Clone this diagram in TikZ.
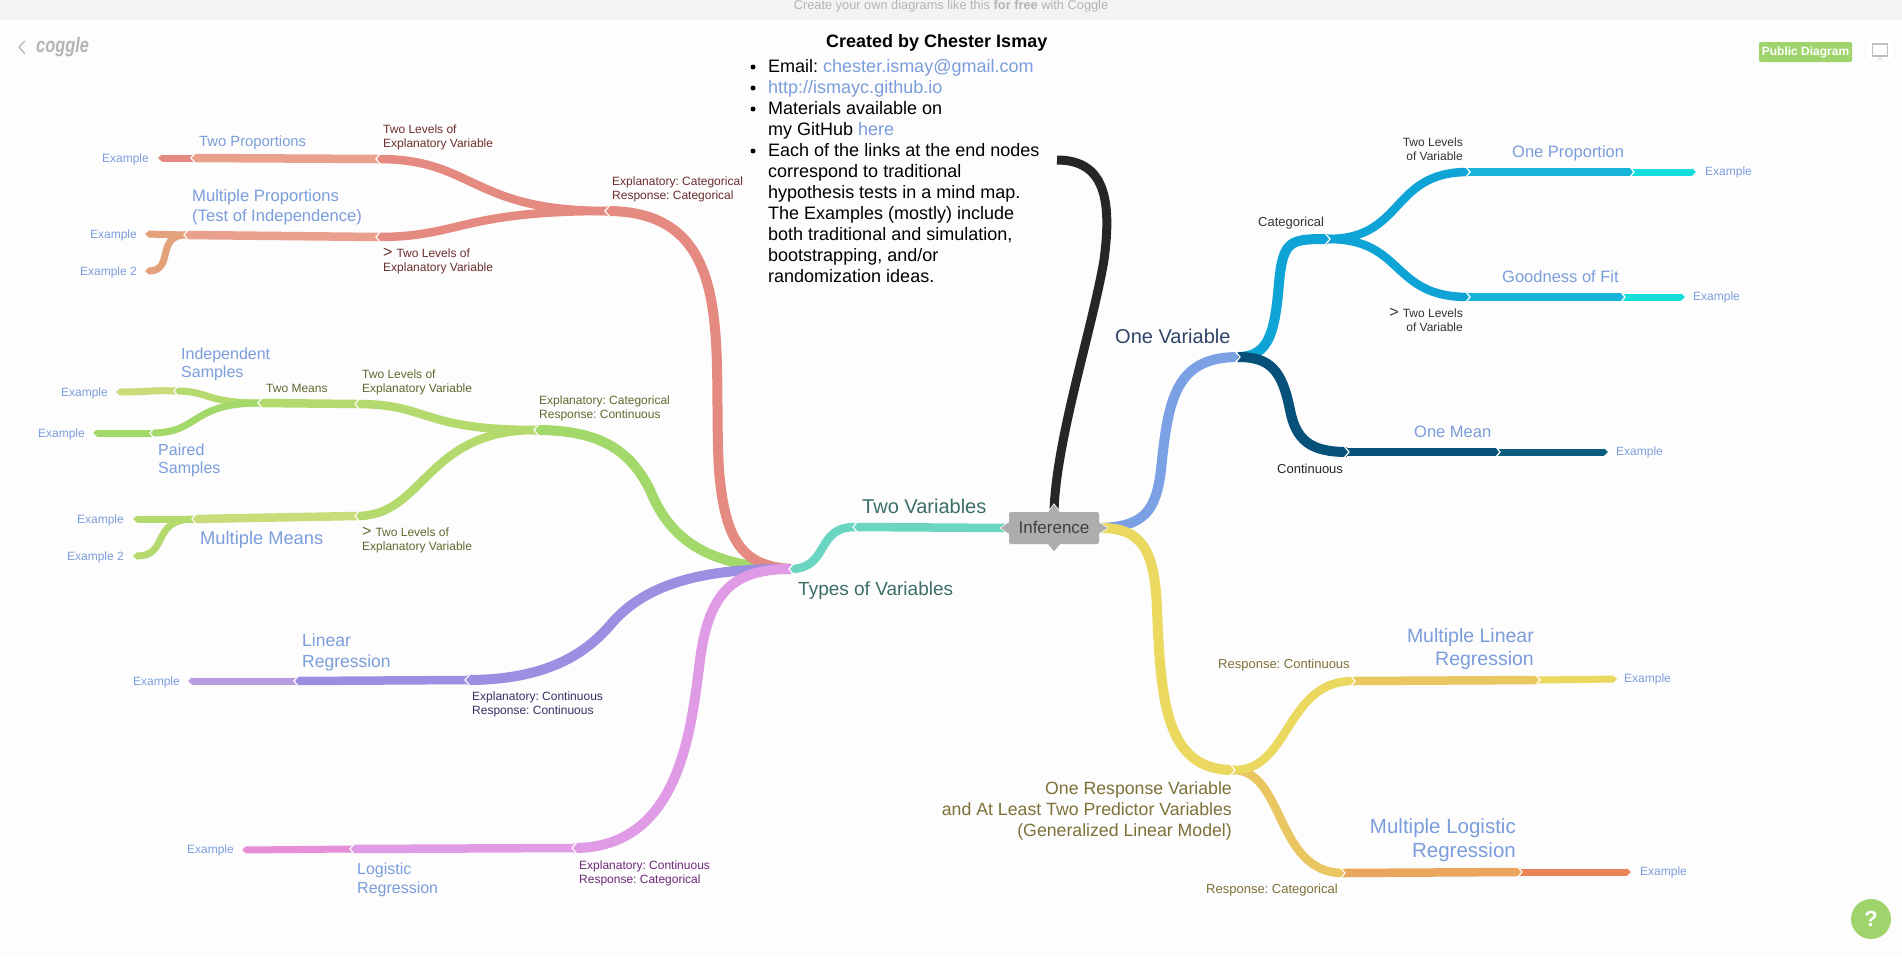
\documentclass[tikz,border=0pt]{standalone}
\usepackage{fontspec}
\setmainfont{Liberation Sans}
\frenchspacing
\usetikzlibrary{arrows.meta}
\definecolor{page_bg}{HTML}{FDFDFD}
\definecolor{bar_bg}{HTML}{F3F3F3}
\definecolor{bar_text}{HTML}{B4B4B4}
\definecolor{leaf_blue}{HTML}{7B9DDC}
\definecolor{btn_green}{HTML}{9FD46C}
\definecolor{c_red}{HTML}{E58A80}
\definecolor{c_salmon}{HTML}{E9A08C}
\definecolor{c_orange}{HTML}{E3A27C}
\definecolor{c_green}{HTML}{A3D86A}
\definecolor{c_lime}{HTML}{B4D96C}
\definecolor{c_pale}{HTML}{C9DC7A}
\definecolor{c_purple}{HTML}{9A8FE0}
\definecolor{c_violet}{HTML}{B89CE0}
\definecolor{c_pink}{HTML}{E09BE6}
\definecolor{c_rose}{HTML}{E68FD8}
\definecolor{c_teal}{HTML}{6AD6C2}
\definecolor{c_blue}{HTML}{7BA1E4}
\definecolor{c_sky}{HTML}{0EA5D6}
\definecolor{c_sky2}{HTML}{18B4DA}
\definecolor{c_aqua}{HTML}{14DEDC}
\definecolor{c_navy}{HTML}{06517A}
\definecolor{c_navy2}{HTML}{0C5D7E}
\definecolor{c_yellow}{HTML}{EBD85E}
\definecolor{c_gold}{HTML}{E9C660}
\definecolor{c_amber}{HTML}{E9A65C}
\definecolor{c_coral}{HTML}{E88458}
\definecolor{t_red}{HTML}{6B2E2E}
\definecolor{t_green}{HTML}{5C6B2E}
\definecolor{t_purple}{HTML}{3C2D66}
\definecolor{t_pink}{HTML}{6D2A78}
\definecolor{t_teal}{HTML}{3C6E68}
\definecolor{t_navy}{HTML}{2F4468}
\definecolor{t_olive}{HTML}{7D7138}
\tikzstyle{link_main} = [line width=10pt]
\tikzstyle{link_sub}  = [line width=8.5pt]
\tikzstyle{link_thin} = [line width=7pt]
\tikzstyle{link_end}  = [line width=7pt, -{Triangle[length=4pt,width=7pt]}]
\tikzstyle{joint}     = [draw=white, line width=1.2pt]
\tikzstyle{tip}       = [fill=black!32, draw=white, line width=0.6pt]
\tikzstyle{leaf}      = [inner sep=0pt, yshift=-1pt, text=leaf_blue, font=\fontsize{12}{14}\selectfont]
\tikzstyle{small}     = [inner sep=0pt, yshift=-1pt, align=left, font=\fontsize{12}{14}\selectfont]
\tikzstyle{small_b}   = [inner sep=0pt, yshift=-1pt, font=\fontsize{13}{14}\selectfont]
\tikzstyle{big}       = [inner sep=0pt, align=left, text=leaf_blue]
\newcommand{\gapl}[1]{\draw[joint] ([shift={(3,-6)}]#1) -- ([shift={(-2,0)}]#1) -- ([shift={(3,6)}]#1);}
\newcommand{\gapr}[1]{\draw[joint] ([shift={(-3,-6)}]#1) -- ([shift={(2,0)}]#1) -- ([shift={(-3,6)}]#1);}
\newcommand{\gtmark}{{\fontsize{16}{14}\selectfont >}\hspace{4pt}}
\begin{document}
\begin{tikzpicture}[x=1pt,y=-1pt]
  \useasboundingbox (0,0) rectangle (1902,956);
  \fill[page_bg] (0,0) rectangle (1902,956);
  %Top bar
  \fill[bar_bg] (0,0) rectangle (1902,20);
  \node (bar_text) [anchor=base, inner sep=0pt, text=bar_text, font=\fontsize{12.8}{16}\selectfont] at (951,9.5) {Create your own diagrams like this \textbf{for free} with Coggle};
  \coordinate (back_a) at (25,41);
  \coordinate (back_b) at (19,47);
  \coordinate (back_c) at (25,54);
  \draw[line width=1.2pt, bar_text] (back_a) -- (back_b) -- (back_c);
  \node (logo) [anchor=west, inner sep=0pt, text=bar_text, font=\fontsize{21}{24}\itshape\bfseries\selectfont] at (36,47) {\scalebox{0.78}[1]{coggle}};
  %Public Diagram
  \node (public) [fill=btn_green, rounded corners=1.5pt, minimum width=93pt, minimum height=20pt, inner sep=0pt, text=white, font=\fontsize{12}{14}\bfseries\selectfont] at (1805.5,52) {Public Diagram};
  \fill[white, draw=black!5] (1880,51) circle (15);
  \node (screen) [draw=black!25, line width=1.5pt, minimum width=15pt, minimum height=12pt, inner sep=0pt] at (1880,50) {};
  \draw[black!12, line width=0.8pt] (screen.south) -- +(-3,5) (screen.south) -- +(3,5);
  %Help button
  \node (help) [circle, fill=btn_green, minimum size=40pt, inner sep=0pt, text=white, font=\fontsize{22}{24}\bfseries\selectfont] at (1871,919) {?};

  %Joints
  \coordinate (root) at (791,569);
  \coordinate (red_top) at (607,211);
  \coordinate (red_a) at (378,159);
  \coordinate (red_b) at (193,158);
  \coordinate (red_c) at (158,158);
  \coordinate (red_d) at (378,237);
  \coordinate (red_e) at (186,235);
  \coordinate (red_f) at (145,234);
  \coordinate (red_g) at (145,271);
  \coordinate (green_top) at (536,430);
  \coordinate (green_a) at (357,404);
  \coordinate (green_b) at (260,403);
  \coordinate (green_c) at (176,391);
  \coordinate (green_d) at (116,392);
  \coordinate (green_e) at (152,433);
  \coordinate (green_f) at (93,433);
  \coordinate (green_g) at (357,516);
  \coordinate (green_h) at (194,519);
  \coordinate (green_i) at (133,519);
  \coordinate (green_j) at (133,556);
  \coordinate (purple_a) at (467,680);
  \coordinate (purple_b) at (296,681);
  \coordinate (purple_c) at (188,681);
  \coordinate (pink_a) at (574,848);
  \coordinate (pink_b) at (352,849);
  \coordinate (pink_c) at (242,850);
  \coordinate (two_var) at (855,527);
  \coordinate (one_var) at (1238,357);
  \coordinate (cat) at (1328,239);
  \coordinate (cat_a) at (1468,172);
  \coordinate (cat_b) at (1632,172);
  \coordinate (cat_c) at (1696,172);
  \coordinate (cat_d) at (1468,297);
  \coordinate (cat_e) at (1623,297);
  \coordinate (cat_f) at (1685,297);
  \coordinate (cont_a) at (1347,452);
  \coordinate (cont_b) at (1498,452);
  \coordinate (cont_c) at (1608,452);
  \coordinate (resp) at (1233,770);
  \coordinate (resp_a) at (1353,681);
  \coordinate (resp_b) at (1538,680);
  \coordinate (resp_c) at (1617,679);
  \coordinate (resp_d) at (1343,873);
  \coordinate (resp_e) at (1520,872);
  \coordinate (resp_f) at (1631,872);
  \coordinate (note_end) at (1057,160);

  %Inference box
  \node (inference) [fill=black!32, rounded corners=1.5pt, minimum width=90pt, minimum height=32pt, inner sep=0pt, text=black!75, font=\fontsize{17}{20}\selectfont] at (1054,528) {\raisebox{1pt}{Inference}};

  %Green branch
  \draw[link_main, c_green] (green_top) .. controls (600,430) and (630,450) .. (650,490) .. controls (672,545) and (715,567) .. (root);
  \draw[link_sub, c_lime] (green_a) .. controls (430,404) and (420,430) .. (green_top);
  \draw[link_sub, c_lime] (green_b) -- (green_a);
  \draw[link_end, c_pale] (green_c) .. controls (150,390) and (150,392) .. (green_d);
  \draw[link_thin, c_lime] (green_c) .. controls (210,391) and (205,403) .. (green_b);
  \draw[link_thin, c_green] (green_e) .. controls (200,433) and (190,403) .. (green_b);
  \draw[link_end, c_green] (green_e) -- (green_f);
  \draw[link_sub, c_lime] (green_g) .. controls (425,516) and (425,430) .. (green_top);
  \draw[link_sub, c_pale] (green_g) -- (green_h);
  \draw[link_end, c_lime] (green_h) -- (green_i);
  \draw[link_end, c_lime] (green_h) .. controls (150,519) and (170,556) .. (green_j);

  %Red branch
  \draw[link_main, c_red] (red_top) .. controls (740,211) and (712,350) .. (719,470) .. controls (725,545) and (745,566) .. (root);
  \draw[link_sub, c_red] (red_a) .. controls (475,159) and (470,211) .. (red_top);
  \draw[link_sub, c_salmon] (red_a) -- (red_b);
  \draw[link_end, c_red] (red_b) -- (red_c);
  \draw[link_sub, c_red] (red_d) .. controls (460,237) and (460,211) .. (red_top);
  \draw[link_sub, c_salmon] (red_d) -- (red_e);
  \draw[link_end, c_orange] (red_e) -- (red_f);
  \draw[link_end, c_orange] (red_e) .. controls (155,235) and (175,271) .. (red_g);

  %Purple branch
  \draw[link_main, c_purple] (root) .. controls (700,568) and (645,585) .. (612,623) .. controls (585,655) and (545,680) .. (purple_a);
  \draw[link_sub, c_purple] (purple_a) -- (purple_b);
  \draw[link_end, c_violet] (purple_b) -- (purple_c);

  %Pink branch
  \draw[link_main, c_pink] (root) .. controls (735,569) and (709,590) .. (700,660) .. controls (691,730) and (680,848) .. (pink_a);
  \draw[link_sub, c_pink] (pink_a) -- (pink_b);
  \draw[link_end, c_rose] (pink_b) -- (pink_c);

  %Teal branch
  \draw[link_sub, c_teal] (root) .. controls (830,568) and (815,527) .. (two_var);
  \draw[link_sub, c_teal] (two_var) -- (inference.west);

  %Note link
  \draw[line width=9pt, black!85] (inference.north) .. controls (1056,440) and (1092,330) .. (1104,260) .. controls (1112,200) and (1105,160) .. (note_end);

  %Right top
  \draw[link_main, c_blue] (inference.east) .. controls (1145,527) and (1156,510) .. (1161,470) .. controls (1168,400) and (1175,357) .. (one_var);
  \draw[link_main, c_sky] (one_var) .. controls (1270,357) and (1275,330) .. (1279,283) .. controls (1283,240) and (1290,239) .. (cat);
  \draw[link_sub, c_sky] (cat) .. controls (1405,239) and (1390,172) .. (cat_a);
  \draw[link_sub, c_sky2] (cat_a) -- (cat_b);
  \draw[link_end, c_aqua] (cat_b) -- (cat_c);
  \draw[link_sub, c_sky] (cat) .. controls (1405,239) and (1390,297) .. (cat_d);
  \draw[link_sub, c_sky2] (cat_d) -- (cat_e);
  \draw[link_end, c_aqua] (cat_e) -- (cat_f);
  \draw[link_main, c_navy] (one_var) .. controls (1270,357) and (1282,370) .. (1290,410) .. controls (1296,440) and (1310,452) .. (cont_a);
  \draw[link_sub, c_navy] (cont_a) -- (cont_b);
  \draw[link_end, c_navy2] (cont_b) -- (cont_c);

  %Right bottom
  \draw[link_main, c_yellow] (inference.east) .. controls (1145,527) and (1155,555) .. (1157,610) .. controls (1161,700) and (1165,770) .. (resp);
  \draw[link_sub, c_gold] (resp) .. controls (1285,770) and (1275,873) .. (resp_d);
  \draw[link_sub, c_yellow] (resp) .. controls (1290,772) and (1285,681) .. (resp_a);
  \draw[link_sub, c_gold] (resp_a) -- (resp_b);
  \draw[link_end, c_yellow] (resp_b) -- (resp_c);
  \draw[link_sub, c_amber] (resp_d) -- (resp_e);
  \draw[link_end, c_coral] (resp_e) -- (resp_f);

  %Inference tips
  \path[tip] (inference.west) ++(0,-6) -- ++(-9,6) -- ++(9,6);
  \path[tip] (inference.east) ++(0,-6) -- ++(9,6) -- ++(-9,6);
  \path[tip] (inference.north) ++(-6,0) -- ++(6,-8) -- ++(6,8);
  \fill[black!32] (inference.south) ++(-6,0) -- ++(6,7) -- ++(6,-7) -- cycle;

  %Gaps
  \foreach \j in {root,red_top,red_a,red_b,red_d,red_e,green_top,green_a,green_b,green_c,green_e,green_g,green_h,purple_a,purple_b,pink_a,pink_b,two_var}
    {\gapl{\j}}
  \foreach \j in {one_var,cat,cat_a,cat_b,cat_d,cat_e,cont_a,cont_b,resp,resp_a,resp_b,resp_d,resp_e}
    {\gapr{\j}}

  %Labels left
  \node (t_two_prop) [big, anchor=west, font=\fontsize{14.8}{16}\selectfont] at (199,142.5) {Two Proportions};
  \node (t_multi_prop) [big, anchor=west, font=\fontsize{16.6}{20.5}\selectfont] at (192,207) {Multiple Proportions\\(Test of Independence)};
  \node (t_levels_a) [small, anchor=west, text=t_red] at (383,136) {Two Levels of\\Explanatory Variable};
  \node (t_levels_b) [small, anchor=west, text=t_red] at (383,260) {\gtmark Two Levels of\\Explanatory Variable};
  \node (t_cat_cat) [small, anchor=west, text=t_red] at (612,188) {Explanatory: Categorical\\Response: Categorical};
  \node (t_indep) [big, anchor=west, font=\fontsize{16}{18}\selectfont] at (181,364.5) {Independent\\Samples};
  \node (t_paired) [big, anchor=west, font=\fontsize{16}{18}\selectfont] at (158,460) {Paired\\Samples};
  \node (t_two_means) [small, anchor=west, text=t_green] at (266,387) {Two Means};
  \node (t_levels_c) [small, anchor=west, text=t_green] at (362,381) {Two Levels of\\Explanatory Variable};
  \node (t_cat_cont) [small, anchor=west, text=t_green] at (539,407) {Explanatory: Categorical\\Response: Continuous};
  \node (t_multi_means) [big, anchor=west, font=\fontsize{18.3}{20}\selectfont] at (200,540) {Multiple Means};
  \node (t_levels_d) [small, anchor=west, text=t_green] at (362,539) {\gtmark Two Levels of\\Explanatory Variable};
  \node (t_linear) [big, anchor=west, font=\fontsize{17.5}{21}\selectfont] at (302,652.5) {Linear\\Regression};
  \node (t_cont_cont) [small, anchor=west, text=t_purple] at (472,703) {Explanatory: Continuous\\Response: Continuous};
  \node (t_logistic) [big, anchor=west, font=\fontsize{16}{19}\selectfont] at (357,879.5) {Logistic\\Regression};
  \node (t_cont_cat) [small, anchor=west, text=t_pink] at (579,872) {Explanatory: Continuous\\Response: Categorical};
  \node (ex_a) [leaf, anchor=east] at (149,158) {Example};
  \node (ex_b) [leaf, anchor=east] at (137,234) {Example};
  \node (ex_c) [leaf, anchor=east] at (137,271) {Example 2};
  \node (ex_d) [leaf, anchor=east] at (108,392) {Example};
  \node (ex_e) [leaf, anchor=east] at (85,433) {Example};
  \node (ex_f) [leaf, anchor=east] at (124,519) {Example};
  \node (ex_g) [leaf, anchor=east] at (124,556) {Example 2};
  \node (ex_h) [leaf, anchor=east] at (180,681) {Example};
  \node (ex_i) [leaf, anchor=east] at (234,849) {Example};

  %Labels middle
  \node (t_two_var) [big, anchor=west, text=t_teal, font=\fontsize{20}{22}\selectfont] at (862,506) {Two Variables};
  \node (t_types) [big, anchor=west, text=t_teal, font=\fontsize{19}{22}\selectfont] at (798,591) {Types of Variables};
  \node (t_title) [anchor=west, inner sep=0pt, font=\fontsize{18}{21}\bfseries\selectfont] at (826,42.5) {Created by Chester Ismay};
  \node (t_note) [anchor=west, inner sep=0pt, align=left, font=\fontsize{18}{21}\selectfont] at (768,171) {Email: \textcolor{leaf_blue}{chester.ismay@gmail.com}\\\textcolor{leaf_blue}{http://ismayc.github.io}\\Materials available on\\my GitHub \textcolor{leaf_blue}{here}\\Each of the links at the end nodes\\correspond to traditional\\hypothesis tests in a mind map.\\The Examples (mostly) include\\both traditional and simulation,\\bootstrapping, and/or\\randomization ideas.};
  \foreach \y in {66,87,108,150}
    \fill (753,\y+1) circle (2.5);

  %Labels right
  \node (t_one_var) [big, anchor=west, text=t_navy, font=\fontsize{20}{22}\selectfont] at (1115,336) {One Variable};
  \node (t_cat) [small_b, anchor=west, text=black!80] at (1258,222) {Categorical};
  \node (t_cont) [small_b, anchor=west, text=black!85] at (1277,468) {Continuous};
  \node (t_levels_e) [small, align=right, anchor=east, text=black!80] at (1463,148) {Two Levels\\of Variable};
  \node (t_levels_f) [small, align=right, anchor=east, text=black!80] at (1463,319) {\gtmark Two Levels\\of Variable};
  \node (t_one_prop) [big, anchor=west, font=\fontsize{16.5}{18}\selectfont] at (1512,153) {One Proportion};
  \node (t_fit) [big, anchor=west, font=\fontsize{16.5}{18}\selectfont] at (1502,277) {Goodness of Fit};
  \node (t_one_mean) [big, anchor=west, font=\fontsize{16.5}{18}\selectfont] at (1414,432) {One Mean};
  \node (t_multi_lin) [big, align=right, anchor=east, font=\fontsize{19.5}{23}\selectfont] at (1534,648.5) {Multiple Linear\\Regression};
  \node (t_multi_log) [big, align=right, anchor=east, font=\fontsize{20.5}{24}\selectfont] at (1516,840) {Multiple Logistic\\Regression};
  \node (t_resp_cont) [small_b, anchor=west, text=t_olive] at (1218,664) {Response: Continuous};
  \node (t_resp_cat) [small_b, anchor=west, text=t_olive] at (1206,889) {Response: Categorical};
  \node (t_resp) [big, align=right, anchor=east, text=t_olive, font=\fontsize{17.7}{21}\selectfont] at (1232,811) {One Response Variable\\and At Least Two Predictor Variables\\(Generalized Linear Model)};
  \node (ex_j) [leaf, anchor=west] at (1705,171) {Example};
  \node (ex_k) [leaf, anchor=west] at (1693,296) {Example};
  \node (ex_l) [leaf, anchor=west] at (1616,451) {Example};
  \node (ex_m) [leaf, anchor=west] at (1624,678) {Example};
  \node (ex_n) [leaf, anchor=west] at (1640,871) {Example};
\end{tikzpicture}
\end{document}
